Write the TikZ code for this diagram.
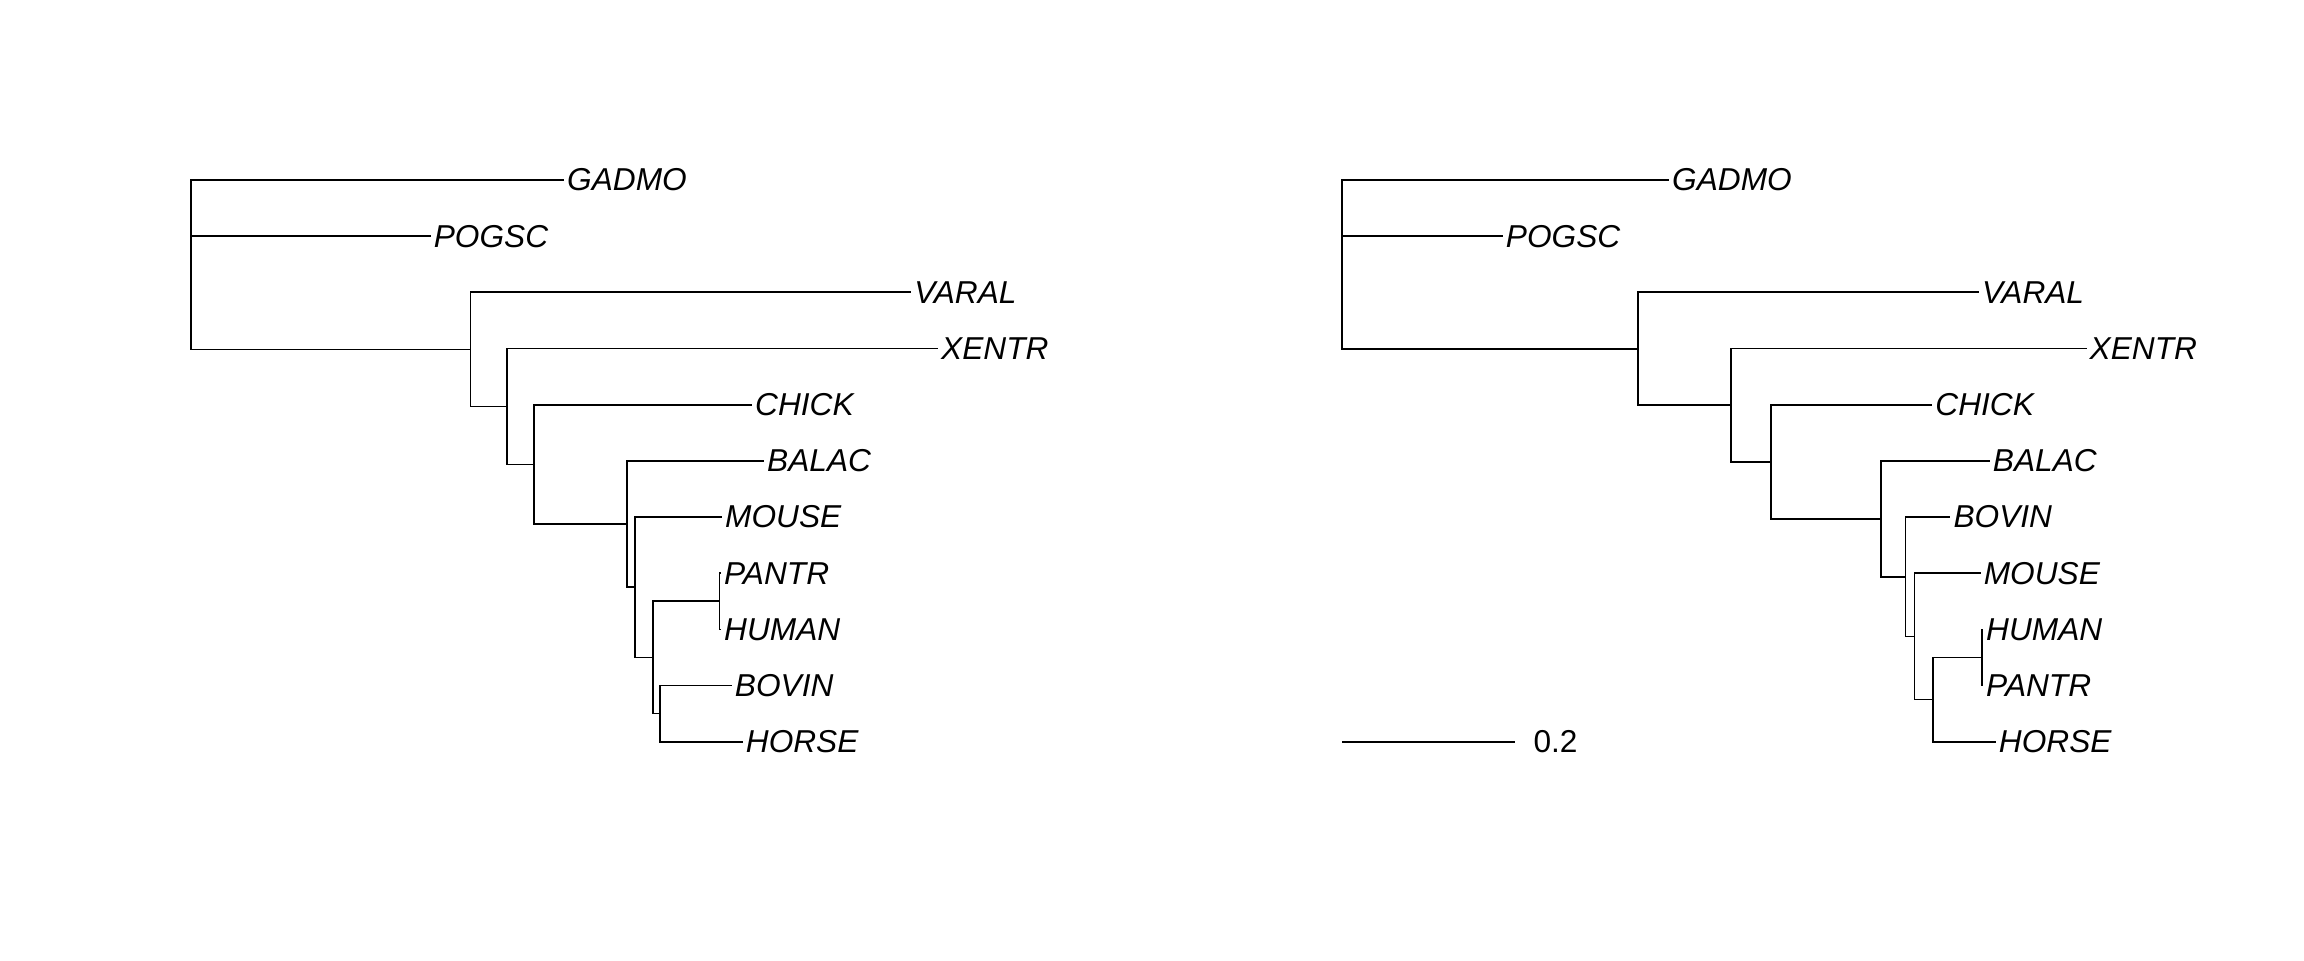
\documentclass[tikz,border=0pt]{standalone}
\usepackage{fontspec}
\setmainfont{Liberation Sans}
\usetikzlibrary{positioning}
\begin{document}
\begin{tikzpicture}[x=0.01cm,y=-0.01cm,
    branch/.style={line width=0.5pt},
    tiplab/.style={anchor=west,inner xsep=0.025cm,inner ysep=0pt,font=\fontsize{9}{10}\selectfont\itshape}]
  \useasboundingbox (0,0) rectangle (2304,960);
  \foreach \nm/\xx/\yy in {GADMO/564/180,POGSC/430.6/236.2,VARAL/911.2/292.3,XENTR/938/348.5,
      CHICK/752/404.7,BALAC/764/460.9,MOUSE/722/517.0,PANTR/721/573.2,HUMAN/721/629.4,
      BOVIN/731.7/685.5,HORSE/742.7/741.7}{
    \node[tiplab] (L\nm) at (\xx,\yy) {\nm};
  }
  \foreach \nm/\xx/\yy in {GADMO/1669/180,POGSC/1502.7/236.2,VARAL/1978.8/292.3,XENTR/2086.5/348.5,
      CHICK/1932.2/404.7,BALAC/1989.7/460.9,BOVIN/1950.3/517.0,MOUSE/1980.6/573.2,HUMAN/1983/629.4,
      PANTR/1983/685.5,HORSE/1995.7/741.7}{
    \node[tiplab] (R\nm) at (\xx,\yy) {\nm};
  }
  \coordinate (lroot) at (191,264.7);
  \coordinate (lA) at (470.4,349.4);
  \coordinate (lB) at (507.1,406.45);
  \coordinate (lC) at (533.7,464.4);
  \coordinate (lD) at (626.8,524.05);
  \coordinate (lE) at (635.3,587.2);
  \coordinate (lF) at (653.3,657.45);
  \coordinate (lG) at (719.5,601.3);
  \coordinate (lH) at (660,713.6);
  \coordinate (rroot) at (1342.3,264);
  \coordinate (rA) at (1637.6,348.7);
  \coordinate (rB) at (1730.7,405.1);
  \coordinate (rC) at (1770.7,461.75);
  \coordinate (rD) at (1880.8,518.8);
  \coordinate (rE) at (1905.5,576.7);
  \coordinate (rF) at (1914.5,636.4);
  \coordinate (rG) at (1981.8,657.45);
  \coordinate (rH) at (1933,699.6);
  \foreach \pa/\ch in {lroot/LGADMO.west,lroot/LPOGSC.west,lroot/lA,lA/LVARAL.west,lA/lB,
      lB/LXENTR.west,lB/lC,lC/LCHICK.west,lC/lD,lD/LBALAC.west,lD/lE,lE/LMOUSE.west,lE/lF,
      lF/lG,lF/lH,lG/LPANTR.west,lG/LHUMAN.west,lH/LBOVIN.west,lH/LHORSE.west}{
    \draw[branch] (\pa) |- (\ch);
  }
  \foreach \pa/\ch in {rroot/RGADMO.west,rroot/RPOGSC.west,rroot/rA,rA/RVARAL.west,rA/rB,
      rB/RXENTR.west,rB/rC,rC/RCHICK.west,rC/rD,rD/RBALAC.west,rD/rE,rE/RBOVIN.west,rE/rF,
      rF/RMOUSE.west,rF/rH,rH/rG,rH/RHORSE.west,rG/RHUMAN.west,rG/RPANTR.west}{
    \draw[branch] (\pa) |- (\ch);
  }
  \coordinate (sbA) at (1342.3,741.7);
  \coordinate (sbB) at (1514.8,741.7);
  \draw[branch] (sbA) -- (sbB);
  \node[right=0.18cm of sbB,inner sep=0pt,font=\fontsize{9}{10}\selectfont] (sblab) {0.2};
\end{tikzpicture}
\end{document}
